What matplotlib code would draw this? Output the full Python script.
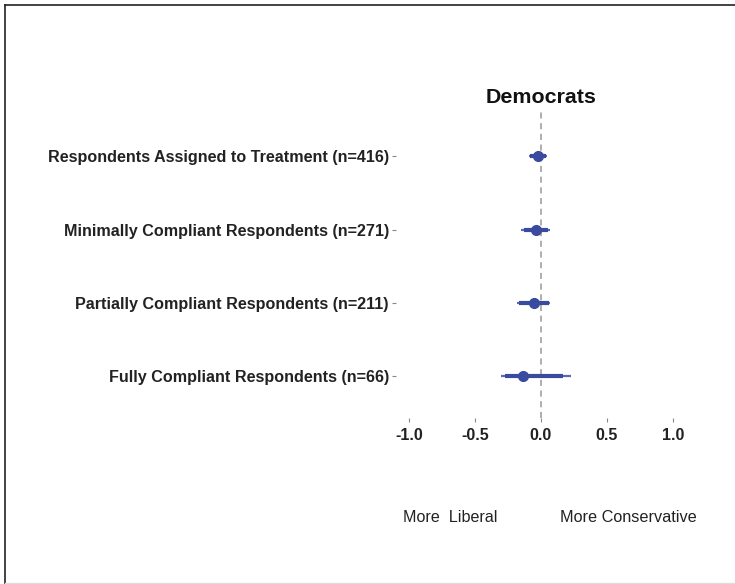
import matplotlib
matplotlib.use("Agg")
import matplotlib.pyplot as plt
from matplotlib.lines import Line2D

plt.rcParams['font.family'] = ['Liberation Sans', 'DejaVu Sans']

# Groups, listed bottom to top
groups = [
    "Fully Compliant Respondents (n=66)",
    "Partially Compliant Respondents (n=211)",
    "Minimally Compliant Respondents (n=271)",
    "Respondents Assigned to Treatment (n=416)",
]
estimates = [-0.14, -0.05, -0.04, -0.025]
ci95_low = [-0.30, -0.185, -0.15, -0.09]
ci95_high = [0.23, 0.07, 0.065, 0.045]
ci90_low = [-0.27, -0.165, -0.13, -0.08]
ci90_high = [0.165, 0.06, 0.05, 0.035]
x_ticks = [-1.0, -0.5, 0.0, 0.5, 1.0]

W, H = 735, 584
fig = plt.figure(figsize=(W / 100, H / 100), dpi=100)

# outer frame
fig.add_artist(Line2D([5 / W, 5 / W], [0, 1 - 5 / H], transform=fig.transFigure,
                      color="#222222", lw=1.2))
fig.add_artist(Line2D([5 / W, 1], [1 - 5 / H, 1 - 5 / H], transform=fig.transFigure,
                      color="#222222", lw=1.2))
fig.add_artist(Line2D([5 / W, 1], [1.2 / H, 1.2 / H], transform=fig.transFigure,
                      color="#dddddd", lw=1.0))

left, right = 395.8, 686.2
top, bottom = 110, 418
ax = fig.add_axes([left / W, (H - bottom) / H, (right - left) / W, (bottom - top) / H])

ypos = list(range(1, len(groups) + 1))
col = "#3a4a9e"

ax.axvline(0, color="#999999", lw=1.1, ls=(0, (4, 3)), zorder=1)
ax.hlines(ypos, ci95_low, ci95_high, color="#5a68b0", lw=1.6, zorder=2)
ax.hlines(ypos, ci90_low, ci90_high, color=col, lw=3.0, zorder=3)
ax.plot(estimates, ypos, "o", color=col, ms=7, zorder=4)

ax.set_xlim(-1.1, 1.1)
ax.set_ylim(0.43, 4.63)
ax.set_xticks(x_ticks)
ax.set_xticklabels([f"{v:.1f}" for v in x_ticks], fontsize=11.5, fontweight="bold",
                   color="#222222")
ax.set_yticks(ypos)
ax.set_yticklabels(groups, fontsize=11.6, fontweight="bold", color="#222222")
ax.tick_params(axis="x", length=3, width=0.8, color="#888888", pad=4)
ax.tick_params(axis="y", length=3, width=0.8, color="#888888", pad=2)
for s in ax.spines.values():
    s.set_visible(False)

ax.set_title("Democrats", fontsize=15.4, fontweight="bold", color="#111111", pad=5)

fig.text(450 / W, 1 - 517 / H, "More  Liberal", ha="center", va="center",
         fontsize=11.6, color="#222222")
fig.text(628 / W, 1 - 517 / H, "More Conservative", ha="center", va="center",
         fontsize=11.7, color="#222222")

fig.savefig("out.png", dpi=100, facecolor="white")
